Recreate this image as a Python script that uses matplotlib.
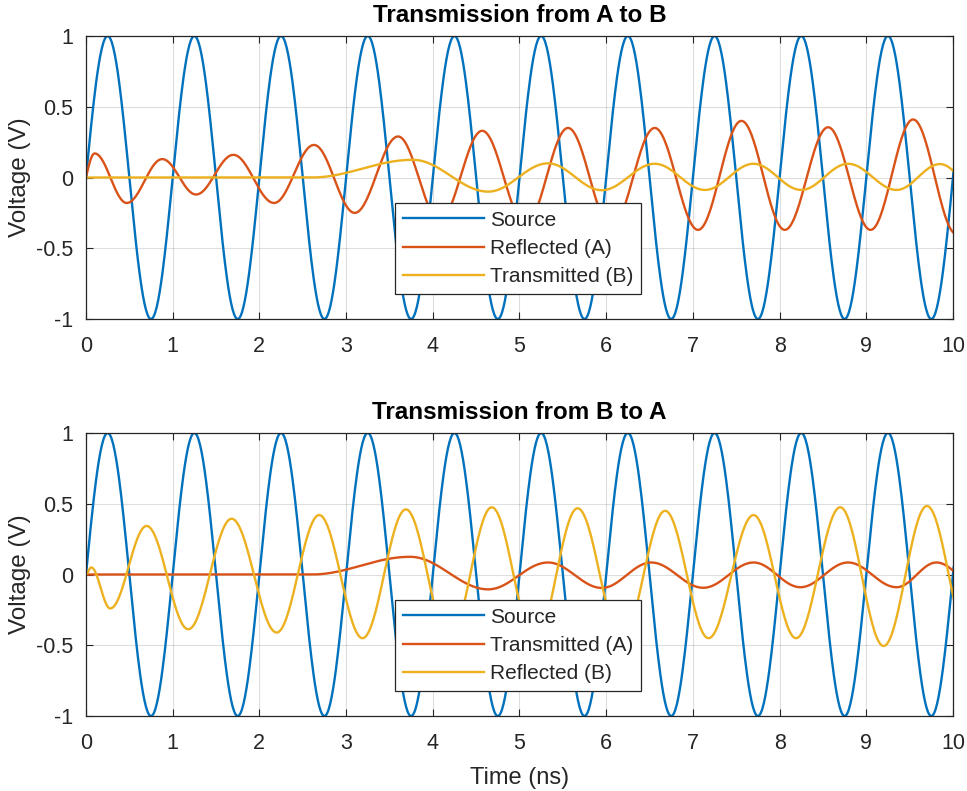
import numpy as np
import matplotlib
matplotlib.use("Agg")
import matplotlib.pyplot as plt

plt.rcParams['font.family'] = ['Liberation Sans', 'DejaVu Sans']

# extrema (time in ns, voltage); curves drawn through them
src_t = [-0.25, 0.25, 0.75, 1.25, 1.75, 2.25, 2.75, 3.25, 3.75, 4.25, 4.75,
         5.25, 5.75, 6.25, 6.75, 7.25, 7.75, 8.25, 8.75, 9.25, 9.75, 10.25]
src_v = [-1, 1, -1, 1, -1, 1, -1, 1, -1, 1, -1,
         1, -1, 1, -1, 1, -1, 1, -1, 1, -1, 1]

refA_t = [-0.1, 0.1, 0.47, 0.88, 1.27, 1.70, 2.17, 2.63, 3.10, 3.60, 4.08, 4.57,
          5.07, 5.56, 6.06, 6.56, 7.06, 7.56, 8.06, 8.56, 9.05, 9.54, 10.04]
refA_v = [-0.17, 0.17, -0.18, 0.13, -0.12, 0.16, -0.18, 0.23, -0.25, 0.29, -0.30, 0.33,
          -0.33, 0.35, -0.35, 0.35, -0.37, 0.40, -0.37, 0.355, -0.37, 0.41, -0.40]

trB_t = [0, 2.6, 3.77, 4.64, 5.33, 5.95, 6.56, 7.14, 7.70, 8.25, 8.79, 9.35, 9.85, 10.3]
trB_v = [0, 0, 0.125, -0.10, 0.10, -0.09, 0.097, -0.088, 0.097, -0.088, 0.097, -0.088, 0.095, -0.09]

trA_t = [0, 2.6, 3.74, 4.64, 5.33, 5.95, 6.52, 7.12, 7.70, 8.24, 8.79, 9.35, 9.81, 10.3]
trA_v = [0, 0, 0.125, -0.105, 0.085, -0.095, 0.085, -0.094, 0.085, -0.09, 0.085, -0.09, 0.085, -0.09]

refB_t = [0, 0.06, 0.28, 0.70, 1.18, 1.68, 2.20, 2.69, 3.19, 3.69, 4.19, 4.68,
          5.18, 5.67, 6.18, 6.68, 7.18, 7.70, 8.19, 8.70, 9.20, 9.70, 10.2]
refB_v = [0, 0.05, -0.24, 0.343, -0.387, 0.394, -0.41, 0.42, -0.45, 0.46, -0.46, 0.475,
          -0.47, 0.468, -0.46, 0.45, -0.45, 0.42, -0.45, 0.475, -0.505, 0.484, -0.48]

blue, orange, yellow = '#0072BD', '#D95319', '#EDB120'
ink = '#262626'


def wave(tk, vk, n=60):
    # smooth half-cosine segments between successive extrema
    ts, vs = [], []
    for i in range(len(tk) - 1):
        s = np.linspace(0, 1, n, endpoint=False)
        ts.append(tk[i] + (tk[i + 1] - tk[i]) * s)
        vs.append(vk[i] + (vk[i + 1] - vk[i]) * (1 - np.cos(np.pi * s)) / 2)
    ts.append([tk[-1]])
    vs.append([vk[-1]])
    return np.concatenate(ts), np.concatenate(vs)


def style(ax, title):
    ax.set_xlim(0, 10)
    ax.set_ylim(-1, 1)
    ax.set_xticks(range(11))
    ax.set_yticks([-1, -0.5, 0, 0.5, 1])
    ax.set_yticklabels(['-1', '-0.5', '0', '0.5', '1'])
    ax.grid(True, color=ink, alpha=0.15, linewidth=0.8)
    ax.tick_params(direction='in', top=True, right=True, labelsize=15.5,
                   colors=ink, length=5)
    ax.tick_params(axis='x', pad=12.5)
    ax.tick_params(axis='y', pad=9)
    for sp in ax.spines.values():
        sp.set_color(ink)
        sp.set_linewidth(0.9)
    ax.set_title(title, fontsize=17.5, fontweight='bold', pad=10)
    ax.set_ylabel('Voltage (V)', fontsize=17.5, color=ink, labelpad=4)


fig = plt.figure(figsize=(9.67, 7.91), dpi=100)
ax1 = fig.add_axes([0.0889, 0.5967, 0.8966, 0.3578])
ax2 = fig.add_axes([0.0889, 0.0948, 0.8966, 0.3578])

lw = 1.7
ax1.plot(*wave(src_t, src_v), color=blue, lw=lw, label='Source')
ax1.plot(*wave(refA_t, refA_v), color=orange, lw=lw, label='Reflected (A)')
ax1.plot(*wave(trB_t, trB_v), color=yellow, lw=lw, label='Transmitted (B)')
style(ax1, 'Transmission from A to B')

ax2.plot(*wave(src_t, src_v), color=blue, lw=lw, label='Source')
ax2.plot(*wave(trA_t, trA_v), color=orange, lw=lw, label='Transmitted (A)')
ax2.plot(*wave(refB_t, refB_v), color=yellow, lw=lw, label='Reflected (B)')
style(ax2, 'Transmission from B to A')
ax2.set_xlabel('Time (ns)', fontsize=17, color=ink, labelpad=9)

for ax in (ax1, ax2):
    leg = ax.legend(loc='upper left', bbox_to_anchor=(0.3564, 0.41), fontsize=15,
                    fancybox=False, framealpha=1, edgecolor=ink,
                    handlelength=3.9, handletextpad=0.3, borderpad=0.37,
                    labelspacing=0.45, borderaxespad=0)
    leg.get_frame().set_linewidth(0.9)
    for t in leg.get_texts():
        t.set_color(ink)

fig.savefig('out.png', dpi=100)
